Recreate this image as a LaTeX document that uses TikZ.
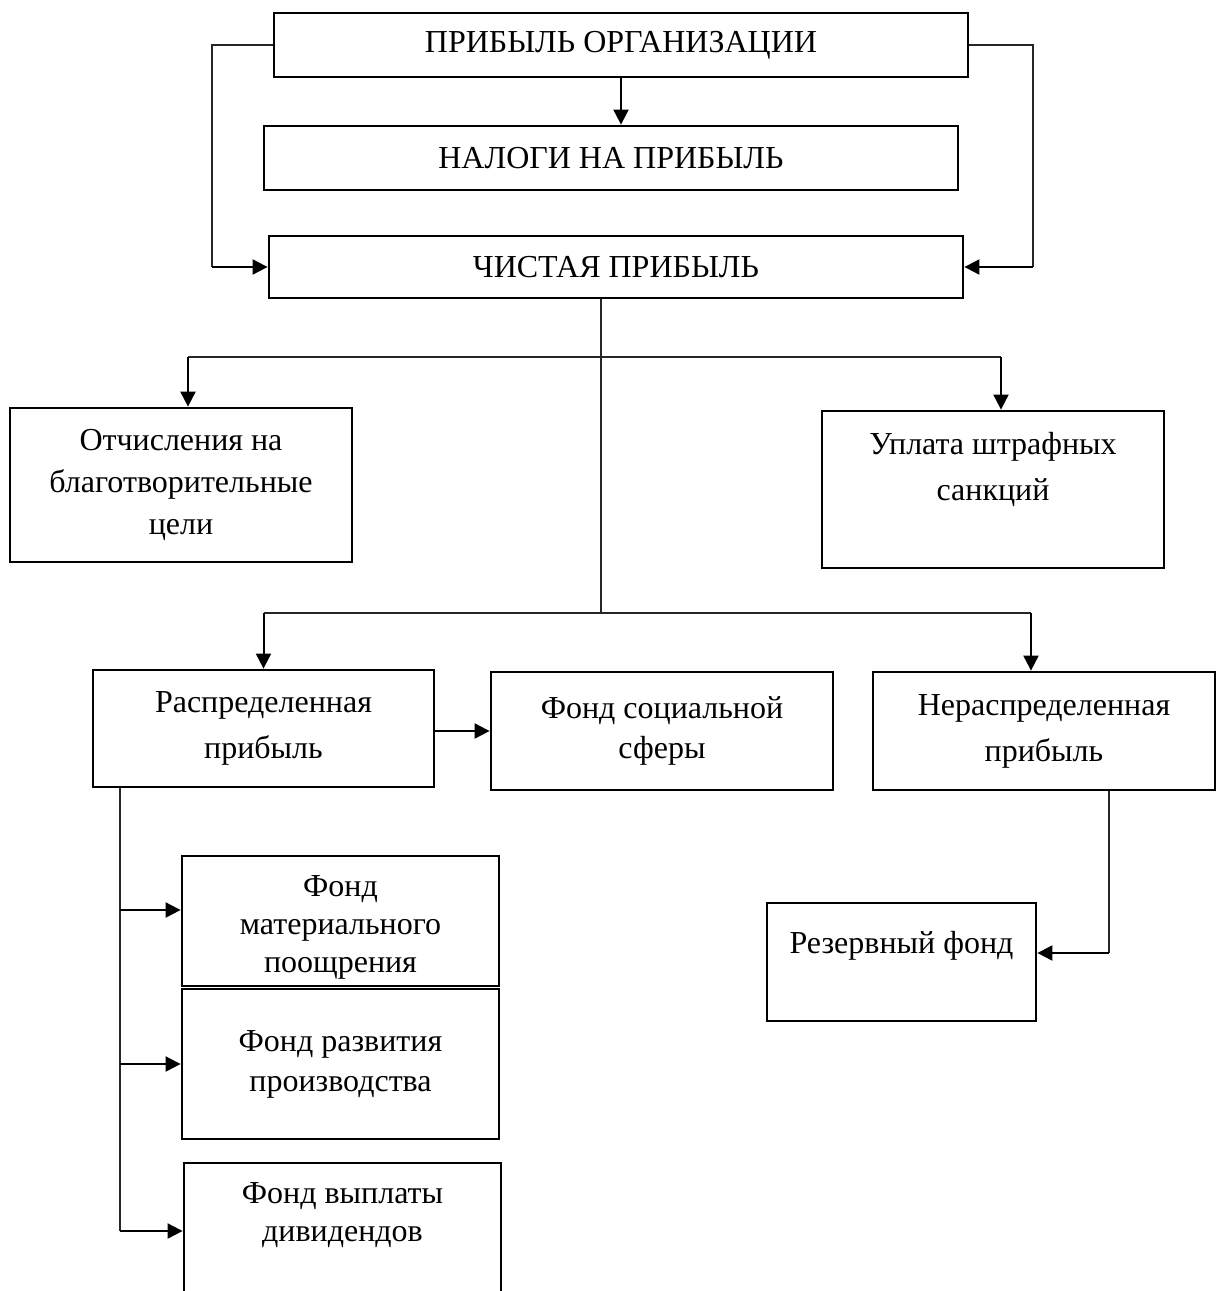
\documentclass[tikz,border=0pt]{standalone}
\usepackage{fontspec}
\setmainfont{Liberation Serif}
\usetikzlibrary{arrows.meta}
\tikzset{
  >={Triangle[length=7.5pt,width=7.5pt]},
  box/.style={draw=black,line width=1.4pt,align=center,inner sep=2pt,
    font=\fontsize{16}{20}\selectfont},
  loose/.style={font=\fontsize{16}{23}\selectfont},
  mid/.style={font=\fontsize{16}{21}\selectfont},
  tight/.style={font=\fontsize{16}{19}\selectfont},
  link/.style={draw=black!85,line width=.55pt},
  arr/.style={->,draw=black,line width=1pt}
}
\begin{document}
\begin{tikzpicture}[x=.5pt,y=-.5pt]
  \useasboundingbox (0,0) rectangle (1216,1291);
  \clip (0,0) rectangle (1216,1291);

  \node[box,minimum width=347pt,minimum height=32pt] (org) at (621,45)
    {ПРИБЫЛЬ ОРГАНИЗАЦИИ};
  \node[box,minimum width=347pt,minimum height=32pt] (tax) at (611,158)
    {НАЛОГИ НА ПРИБЫЛЬ};
  \node[box,minimum width=347pt,minimum height=31pt] (net) at (616,267)
    {ЧИСТАЯ ПРИБЫЛЬ};

  \node[box,mid,minimum width=171pt,minimum height=77pt] (charity) at (181,485)
    {Отчисления на\\благотворительные\\цели};
  \node[box,loose,minimum width=171pt,minimum height=78.5pt] (fines) at (993,489.5)
    {Уплата штрафных\\санкций\\\mbox{}};

  \node[box,loose,minimum width=170.5pt,minimum height=58.5pt] (dist) at (263.5,728.5)
    {Распределенная\\прибыль};
  \node[box,minimum width=171pt,minimum height=59pt] (social) at (662,731)
    {Фонд социальной\\сферы};
  \node[box,loose,minimum width=171pt,minimum height=59pt] (undist) at (1044,731)
    {Нераспределенная\\прибыль};

  \node[box,tight,minimum width=158.5pt,minimum height=65pt] (matfund) at (340.5,921)
    {\rule{0pt}{17pt}Фонд\\материального\\поощрения};
  \node[box,minimum width=158.5pt,minimum height=75pt] (devfund) at (340.5,1064)
    {Фонд развития\\производства};
  \node[box,tight,minimum width=158.5pt,minimum height=87.5pt] (divfund) at (342.5,1250.5)
    {Фонд выплаты\\дивидендов\\\mbox{}\\\mbox{}};
  \node[box,minimum width=134.5pt,minimum height=59pt] (reserve) at (901.5,962)
    {Резервный фонд\\\mbox{}};

  \coordinate (lbend) at (212,267);
  \coordinate (rbend) at (1033,267);
  \draw[link] (org.west) -| (lbend);
  \draw[arr] (lbend) -- (net.west);
  \draw[link] (org.east) -| (rbend);
  \draw[arr] (rbend) -- (net.east);
  \draw[arr] (org.south) -- (org.south |- tax.north);

  \coordinate (split) at (601,613);
  \coordinate (b1) at (188,357);
  \coordinate (b2) at (1001,357);
  \coordinate (c2) at (1031,613);
  \draw[link] (split |- net.south) -- (split);
  \draw[link] (b1) -- (b2);
  \draw[arr] (b1) -- (b1 |- charity.north);
  \draw[arr] (b2) -- (b2 |- fines.north);
  \draw[link] (dist.north |- split) -- (c2);
  \draw[arr] (dist.north |- split) -- (dist.north);
  \draw[arr] (c2) -- (c2 |- undist.north);
  \draw[arr] (social.west -| dist.east) -- (social.west);

  \coordinate (lend) at (120,1231);
  \coordinate (m1) at (120,910);
  \draw[link] (dist.south -| lend) -- (lend);
  \draw[arr] (m1) -- (m1 -| matfund.west);
  \draw[arr] (lend |- devfund.west) -- (devfund.west);
  \draw[arr] (lend) -- (lend -| divfund.west);

  \coordinate (rr) at (1109,953);
  \draw[link] (undist.south -| rr) -- (rr);
  \draw[arr] (rr) -- (rr -| reserve.east);
\end{tikzpicture}
\end{document}
